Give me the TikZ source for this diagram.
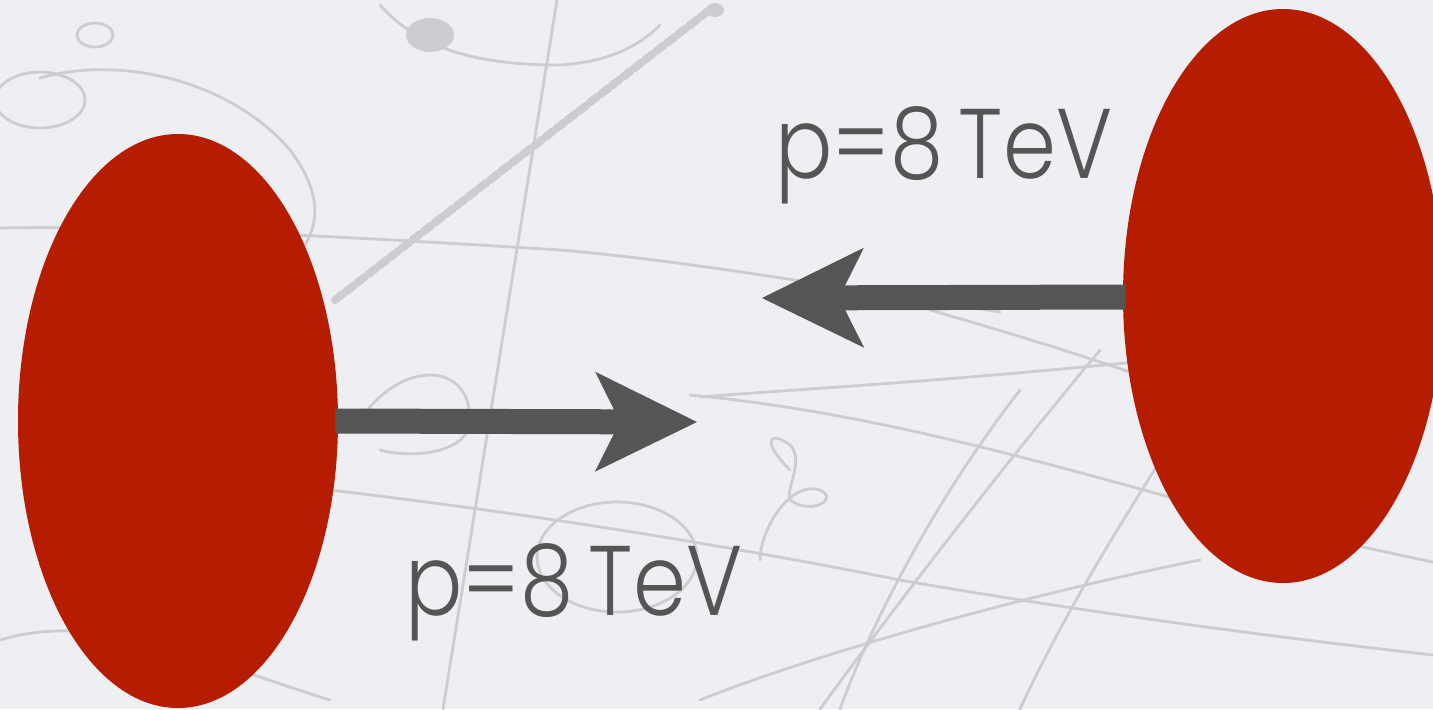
\documentclass[tikz,border=0pt]{standalone}
\usepackage{fontspec}
\setmainfont{Poppins}[UprightFont=* Light]
\usetikzlibrary{arrows.meta,shapes.geometric}
\definecolor{bg}{HTML}{EDEFF2}
\definecolor{trk}{HTML}{CBCDD1}
\definecolor{proton}{HTML}{B51C00}
\definecolor{ink}{HTML}{555555}
\tikzset{
  track/.style={draw=trk, line width=1.4pt, line cap=round, line join=round},
  beads/.style={draw=trk, line width=4pt, line cap=round, dash pattern=on 5pt off 2pt},
  protonbox/.style={ellipse, fill=proton, draw=none, minimum width=160pt, minimum height=287pt, inner sep=0pt},
  momarrow/.style={draw=ink, line width=12.5pt, -{Stealth[length=51pt,width=50pt,inset=12.5pt,line width=0pt]}},
  lbl/.style={text=ink, inner sep=0pt, xscale=0.86, transform shape, font=\fontsize{49.5pt}{52pt}\selectfont}
}
\begin{document}
\begin{tikzpicture}[x=0.5pt,y=-0.5pt]
\useasboundingbox (0,0) rectangle (1433,709);
\clip (0,0) rectangle (1433,709);
\fill[bg] (0,0) rectangle (1433,709);
% bubble chamber tracks (background)
\draw[track] (0,228) .. controls (150,225) and (400,240) .. (560,250) .. controls (700,262) and (850,290) .. (1000,312);
\draw[beads] (335,300) -- (712,8);
\fill[trk] (715,10) ellipse (9 and 7);
\draw[track] (557,0) -- (443,709);
\draw[track] (700,397) .. controls (850,385) and (1000,380) .. (1433,330);
\draw[track] (690,395) .. controls (850,410) and (1000,450) .. (1180,500) .. controls (1300,535) and (1400,555) .. (1433,562);
\draw[track] (930,310) .. controls (1000,330) and (1100,360) .. (1180,390);
\draw[track] (330,490) .. controls (500,510) and (700,540) .. (900,580) .. controls (1100,615) and (1300,640) .. (1433,655);
\draw[track] (1100,350) .. controls (1000,470) and (900,600) .. (820,709);
\draw[track] (1020,390) .. controls (950,480) and (880,600) .. (840,709);
\draw[track] (1210,380) .. controls (1150,480) and (1080,580) .. (1020,709);
\draw[track] (617,557) ellipse (80 and 55);
\draw[track] (40,78) .. controls (120,55) and (230,80) .. (290,150) .. controls (320,190) and (320,220) .. (305,245);
\draw[track] (40,100) ellipse (45 and 28);
\draw[track] (95,35) ellipse (18 and 12);
\draw[track] (380,5) .. controls (420,50) and (480,65) .. (560,65) .. controls (610,62) and (640,45) .. (660,25);
\fill[trk] (430,35) ellipse (24 and 17);
\draw[track] (790,470) .. controls (760,440) and (770,430) .. (790,445) .. controls (805,460) and (785,490) .. (790,500) .. controls (810,515) and (840,500) .. (820,490) .. controls (790,480) and (760,530) .. (760,560);
\draw[track] (360,420) .. controls (400,360) and (470,360) .. (470,420) .. controls (470,450) and (420,460) .. (380,450);
\draw[track] (0,640) .. controls (100,610) and (200,660) .. (330,700);
\draw[track] (700,700) .. controls (800,660) and (1000,600) .. (1200,560);
% protons and momenta
\coordinate (tipA) at (697,422);
\coordinate (tipB) at (762,298);
\node[protonbox] (L) at (178,421) {};
\node[protonbox] (R) at (1283,296) {};
\draw[momarrow] (L.east) ++(-3,0) -- (tipA);
\draw[momarrow] (R.west) ++(3,1) -- (tipB);
\node[lbl, anchor=base west] (lblB) at (405,615) {p=8\hspace{9pt}TeV};
\node[lbl, anchor=base west] (lblA) at (775,178) {p=8\hspace{9pt}TeV};
\end{tikzpicture}
\end{document}
